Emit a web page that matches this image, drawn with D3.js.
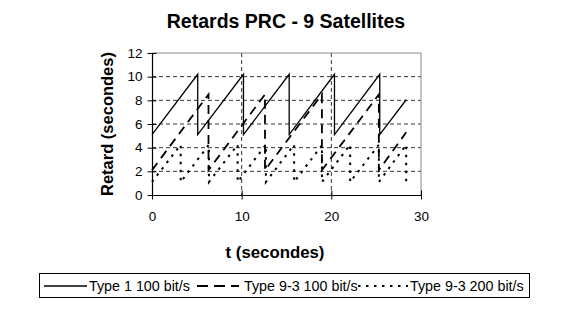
<!DOCTYPE html>
<html><head><meta charset="utf-8">
<script src="https://cdn.jsdelivr.net/npm/d3@7"></script>
<style>body{margin:0;background:#fff;} text{font-family:"Liberation Sans",Arial,sans-serif;}</style>
</head><body>
<svg id="c" width="568" height="329"></svg>
<script>
// Data
const xTicks = [0, 10, 20, 30];
const yTicks = [0, 2, 4, 6, 8, 10, 12];
const seriesNames = ["Type 1 100 bit/s", "Type 9-3 100 bit/s", "Type 9-3 200 bit/s"];
const type1X = [0, 5.1, 5.1, 10.2, 10.2, 15.3, 15.3, 20.35, 20.35, 25.4, 25.4, 28.35];
const type1Y = [5.1, 10.2, 5.1, 10.2, 5.1, 10.2, 5.1, 10.2, 5.1, 10.2, 5.1, 8.05];
const type93aX = [0, 6.3, 6.3, 12.6, 12.6, 18.95, 18.95, 25.3, 25.3, 28.35];
const type93aY = [2.1, 8.5, 2.1, 8.5, 2.1, 8.5, 2.1, 8.5, 2.1, 5.3];
const type93bX = [0, 3.2, 3.2, 6.35, 6.35, 9.55, 9.55, 12.7, 12.7, 15.85, 15.85, 18.95, 18.95, 22.1, 22.1, 25.3, 25.3, 28.35, 28.35];
const type93bY = [1.1, 4.25, 1.1, 4.25, 1.1, 4.25, 1.1, 4.25, 1.1, 4.25, 1.1, 4.2, 1.1, 4.25, 1.1, 4.25, 1.1, 4.25, 1.1];

const svg = d3.select("#c");
const L = 152, R = 421, T = 53, B = 195;
const x = d3.scaleLinear().domain([0, 30]).range([L, R]);
const y = d3.scaleLinear().domain([0, 12]).range([B, T]);

// title
svg.append("text").attr("x", 286).attr("y", 28).attr("text-anchor", "middle")
  .attr("font-size", 19.5).attr("font-weight", "bold").text("Retards PRC - 9 Satellites");

// gridlines
const g = svg.append("g");
g.selectAll(".hg").data(yTicks.filter(d => d > 0 && d < 12)).enter().append("line")
  .attr("x1", L).attr("x2", R).attr("y1", d => y(d)).attr("y2", d => y(d))
  .attr("stroke", "#000").attr("stroke-width", 0.8).attr("stroke-dasharray", "4,3");
g.selectAll(".vg").data(xTicks.filter(d => d > 0 && d < 30)).enter().append("line")
  .attr("y1", T).attr("y2", B).attr("x1", d => x(d)).attr("x2", d => x(d))
  .attr("stroke", "#000").attr("stroke-width", 0.8).attr("stroke-dasharray", "4,3");

// frame top & right (gray)
svg.append("line").attr("x1", L).attr("x2", R).attr("y1", T).attr("y2", T).attr("stroke", "#888").attr("stroke-width", 1);
svg.append("line").attr("x1", R).attr("x2", R).attr("y1", T).attr("y2", B).attr("stroke", "#888").attr("stroke-width", 1);

// series
const line = d3.line().x(d => x(d[0])).y(d => y(d[1]));
const zip = (a, b) => a.map((v, i) => [v, b[i]]);
svg.append("path").attr("d", line(zip(type1X, type1Y))).attr("fill", "none")
  .attr("stroke", "#000").attr("stroke-width", 1.3);
svg.append("path").attr("d", line(zip(type93aX, type93aY))).attr("fill", "none")
  .attr("stroke", "#000").attr("stroke-width", 1.8).attr("stroke-dasharray", "9,6");
svg.append("path").attr("d", line(zip(type93bX, type93bY))).attr("fill", "none")
  .attr("stroke", "#000").attr("stroke-width", 2).attr("stroke-dasharray", "2.5,5.5");

// axes
const xAxis = d3.axisBottom(x).tickValues(xTicks).tickSizeInner(4.5).tickSizeOuter(0).tickPadding(12);
const ax = svg.append("g").attr("transform", `translate(0,${B})`).call(xAxis);
ax.selectAll(".tick line").attr("y1", -4.5);
const yAxis = d3.axisLeft(y).tickValues(yTicks).tickSizeInner(4.5).tickSizeOuter(0).tickPadding(5);
const ay = svg.append("g").attr("transform", `translate(${L},0)`).call(yAxis);
ay.selectAll(".tick line").attr("x1", 4.5);
[ax, ay].forEach(a => {
  a.select(".domain").attr("stroke", "#000").attr("stroke-width", 1.2);
  a.selectAll(".tick line").attr("stroke", "#000").attr("stroke-width", 1);
  a.selectAll("text").attr("font-size", 13.5).attr("fill", "#000").attr("font-family", "Liberation Sans, Arial, sans-serif");
});

// axis titles
svg.append("text").attr("x", 275).attr("y", 258).attr("text-anchor", "middle")
  .attr("font-size", 16.8).attr("font-weight", "bold").text("t (secondes)");
svg.append("text").attr("transform", "translate(113,124) rotate(-90)").attr("text-anchor", "middle")
  .attr("font-size", 16.5).attr("font-weight", "bold").text("Retard (secondes)");

// legend
const lg = svg.append("g");
lg.append("rect").attr("x", 39.5).attr("y", 273.5).attr("width", 490).attr("height", 24)
  .attr("fill", "#fff").attr("stroke", "#000").attr("stroke-width", 1);
const legItems = [
  {x1: 44, x2: 87, tx: 89, dash: null, w: 1.3},
  {x1: 197, x2: 239, tx: 244, dash: "11,6", w: 1.8},
  {x1: 358, x2: 408, tx: 410, dash: "2.5,5.5", w: 2}
];
legItems.forEach((it, i) => {
  const ln = lg.append("line").attr("x1", it.x1).attr("x2", it.x2).attr("y1", 286).attr("y2", 286)
    .attr("stroke", "#000").attr("stroke-width", it.w);
  if (it.dash) ln.attr("stroke-dasharray", it.dash);
  lg.append("text").attr("x", it.tx).attr("y", 291).attr("font-size", 14.3).text(seriesNames[i]);
});
</script>
</body></html>
